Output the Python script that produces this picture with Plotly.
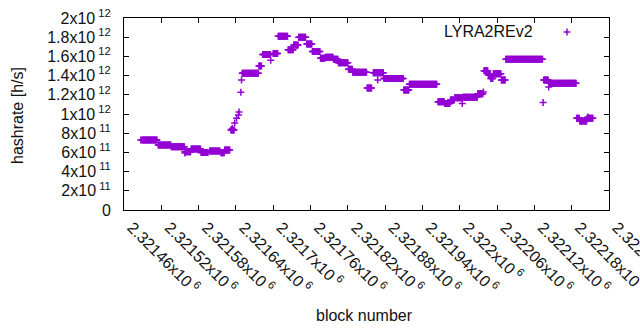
import plotly.graph_objects as go

# ---- data (block number, hashrate in h/s) ----
# runs of consecutive blocks that share one hashrate value
seg_start = [2321489, 2321515, 2321536, 2321558, 2321568, 2321584, 2321598, 2321616,
             2321622, 2321632, 2321650, 2321677, 2321683, 2321700, 2321708, 2321724,
             2321733, 2321741, 2321754, 2321763, 2321776, 2321784, 2321797, 2321805,
             2321821, 2321828, 2321851, 2321861, 2321878, 2321910, 2321919, 2321965,
             2321976, 2321985, 2321992, 2322005, 2322029, 2322039, 2322046, 2322050,
             2322054, 2322067, 2322074, 2322135, 2322144, 2322188, 2322193, 2322205]
seg_end = [2321513, 2321535, 2321557, 2321567, 2321583, 2321595, 2321614, 2321621,
           2321630, 2321637, 2321676, 2321681, 2321695, 2321707, 2321723, 2321732,
           2321740, 2321752, 2321762, 2321775, 2321783, 2321796, 2321804, 2321820,
           2321827, 2321850, 2321858, 2321877, 2321909, 2321918, 2321963, 2321975,
           2321984, 2321991, 2322003, 2322028, 2322037, 2322045, 2322049, 2322053,
           2322066, 2322073, 2322133, 2322142, 2322187, 2322192, 2322204, 2322214]
seg_hash = [7.29e11, 6.77e11, 6.60e11, 6.07e11, 6.35e11, 6.00e11, 6.15e11, 5.97e11,
            6.25e11, 8.33e11, 1.424e12, 1.50e12, 1.62e12, 1.63e12, 1.81e12, 1.67e12,
            1.72e12, 1.80e12, 1.73e12, 1.65e12, 1.58e12, 1.59e12, 1.57e12, 1.535e12,
            1.465e12, 1.435e12, 1.27e12, 1.43e12, 1.37e12, 1.25e12, 1.31e12, 1.128e12,
            1.11e12, 1.146e12, 1.17e12, 1.174e12, 1.21e12, 1.45e12, 1.406e12, 1.37e12,
            1.42e12, 1.354e12, 1.57e12, 1.354e12, 1.32e12, 9.55e11, 9.27e11, 9.55e11]

# isolated blocks
pt_block = [2321487, 2321558, 2321634, 2321638, 2321641, 2321644, 2321645, 2321648,
            2321649, 2321696, 2321868, 2322004, 2322038, 2322134, 2322143, 2322206]
pt_hash = [7.29e11, 5.94e11, 8.50e11, 9.06e11, 9.55e11, 9.90e11, 1.02e12, 1.226e12,
           1.354e12, 1.56e12, 1.354e12, 1.11e12, 1.23e12, 1.12e12, 1.28e12, 9.70e11]

series_name = "LYRA2REv2"

x_tickvals = [2321460, 2321520, 2321580, 2321640, 2321700, 2321760, 2321820,
              2321880, 2321940, 2322000, 2322060, 2322120, 2322180, 2322240]
x_ticktext = ["2.32146x10<sup> 6</sup>", "2.32152x10<sup> 6</sup>", "2.32158x10<sup> 6</sup>",
              "2.32164x10<sup> 6</sup>", "2.3217x10<sup> 6</sup>", "2.32176x10<sup> 6</sup>",
              "2.32182x10<sup> 6</sup>", "2.32188x10<sup> 6</sup>", "2.32194x10<sup> 6</sup>",
              "2.322x10<sup> 6</sup>", "2.32206x10<sup> 6</sup>", "2.32212x10<sup> 6</sup>",
              "2.32218x10<sup> 6</sup>", "2.32224x10<sup> 6</sup>"]
y_tickvals = [0, 2e11, 4e11, 6e11, 8e11, 1e12, 1.2e12, 1.4e12, 1.6e12, 1.8e12, 2e12]
y_ticktext = ["0", "2x10<sup> 11</sup>", "4x10<sup> 11</sup>", "6x10<sup> 11</sup>",
              "8x10<sup> 11</sup>", "1x10<sup> 12</sup>", "1.2x10<sup> 12</sup>",
              "1.4x10<sup> 12</sup>", "1.6x10<sup> 12</sup>", "1.8x10<sup> 12</sup>",
              "2x10<sup> 12</sup>"]

# expand runs into one point per block
xs, ys = [], []
for s, e, h in zip(seg_start, seg_end, seg_hash):
    for b in range(s, e + 1):
        xs.append(b)
        ys.append(h)
xs += pt_block
ys += pt_hash

COLOR = "#9400D3"
FONT = "Liberation Sans, Arial, sans-serif"
FS = 16
TXT = "#111111"

fig = go.Figure()
fig.add_trace(go.Scatter(
    x=xs, y=ys, mode="markers", name=series_name, showlegend=False,
    marker=dict(symbol="cross-thin", size=5, line=dict(color=COLOR, width=1.5), color=COLOR),
))

W, H = 640, 330
L, R, T, B = 124, 31, 18, 120
pw, ph = W - L - R, H - T - B

def px(xp):
    return (xp - L) / pw

def py(yp):
    return (H - B - yp) / ph

axis_common = dict(
    showline=True, linecolor="black", linewidth=1, mirror="allticks",
    ticks="inside", ticklen=5, tickcolor="black", tickwidth=1,
    showgrid=False, zeroline=False, ticklabeloverflow="allow", automargin=False,
    tickfont=dict(family=FONT, size=FS, color=TXT),
)

fig.update_layout(
    width=W, height=H, autosize=False,
    margin=dict(l=L, r=R, t=T, b=B, pad=0),
    paper_bgcolor="white", plot_bgcolor="white",
    font=dict(family=FONT, size=FS, color=TXT),
    xaxis=dict(range=[2321460, 2322240], tickmode="array", tickvals=x_tickvals,
               ticktext=x_ticktext, tickangle=45, ticklabelstandoff=1,
               ticklabelshift=8, **axis_common),
    yaxis=dict(range=[0, 2e12], tickmode="array", tickvals=y_tickvals,
               ticktext=y_ticktext, ticklabelstandoff=9, **axis_common),
    showlegend=False,
)

# axis titles
fig.add_annotation(text="block number", x=px(364.5), y=py(315), xref="paper", yref="paper",
                   showarrow=False, xanchor="center", yanchor="middle",
                   font=dict(family=FONT, size=FS, color=TXT))
fig.add_annotation(text="hashrate [h/s]", x=px(17), y=py(116), xref="paper", yref="paper",
                   showarrow=False, xanchor="center", yanchor="middle", textangle=-90,
                   font=dict(family=FONT, size=FS, color=TXT))

# legend (text then key sample, gnuplot style)
fig.add_annotation(text=series_name, x=px(535), y=py(32), xref="paper", yref="paper",
                   showarrow=False, xanchor="right", yanchor="middle",
                   font=dict(family=FONT, size=FS, color=TXT))
fig.add_shape(type="line", xref="paper", yref="paper", x0=px(563.5), x1=px(570.5),
              y0=py(32), y1=py(32), line=dict(color=COLOR, width=1.5))
fig.add_shape(type="line", xref="paper", yref="paper", x0=px(567), x1=px(567),
              y0=py(28.5), y1=py(35.5), line=dict(color=COLOR, width=1.5))

fig.write_html("out.html")
